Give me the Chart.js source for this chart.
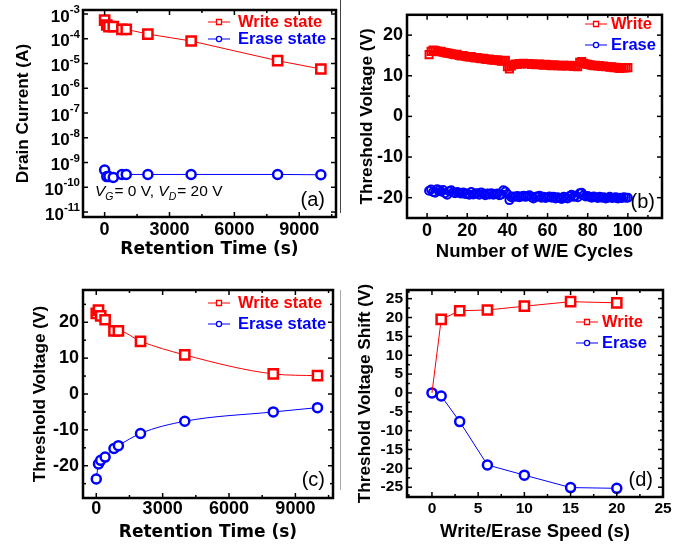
<!DOCTYPE html>
<html lang="en">
<head>
<meta charset="UTF-8">
<title>Memory characteristics - four panels</title>
<script src="https://cdn.jsdelivr.net/npm/chart.js"></script>
<style>
  body { margin: 0; background: #fff; }
  #wrap { position: relative; width: 693px; height: 546px; }
  #wrap canvas { position: absolute; }
  .seam { position: absolute; left: 340px; width: 1px; }
</style>
</head>
<body>
<div id="wrap">
  <canvas id="chartA" width="346" height="273" style="left:0;top:0"></canvas>
  <canvas id="chartB" width="347" height="273" style="left:346px;top:0"></canvas>
  <canvas id="chartC" width="346" height="273" style="left:0;top:273px"></canvas>
  <canvas id="chartD" width="347" height="273" style="left:346px;top:273px"></canvas>
  <div class="seam" style="top:0;height:213px;background:#444"></div>
  <div class="seam" style="top:290px;height:200px;background:#aaa"></div>
</div>

<script>
// ---- data ----
const retentionTime = [0, 100, 200, 400, 800, 1000, 2000, 4000, 8000, 10000];
const currentWrite = [5.7e-4, 3.6e-4, 3.1e-4, 3.1e-4, 2.4e-4, 2.4e-4, 1.55e-4, 8.1e-5, 1.3e-5, 6e-6];
const currentErase = [5e-10, 2.7e-10, 2.7e-10, 2.5e-10, 3.3e-10, 3.3e-10, 3.3e-10, 3.3e-10, 3.3e-10, 3.2e-10];

const vthRetWrite = [22.5, 23.4, 21.8, 20.7, 17.6, 17.6, 14.7, 10.9, 5.6, 5.1];
const vthRetErase = [-23.7, -19.5, -18.5, -17.6, -15.2, -14.4, -11.0, -7.6, -5.0, -3.8];

const cycles = Array.from({length: 100}, (_, i) => i + 1);
const vthCycWrite = [
  15.2, 16.0, 16.3, 16.2, 16.1, 15.9, 16.0, 15.8, 15.7, 15.6,
  15.5, 15.4, 15.3, 15.2, 15.3, 15.0, 14.9, 15.0, 14.8, 14.7,
  14.6, 14.7, 14.5, 14.4, 14.5, 14.3, 14.2, 14.3, 14.1, 14.0,
  14.1, 13.9, 13.9, 13.8, 13.9, 13.7, 13.6, 13.7, 13.8, 12.2,
  11.7, 12.4, 12.7, 12.9, 12.8, 13.0, 12.9, 13.1, 13.0, 12.9,
  13.0, 12.8, 12.9, 12.7, 12.8, 12.9, 12.7, 12.6, 12.8, 12.7,
  12.6, 12.5, 12.7, 12.6, 12.5, 12.6, 12.4, 12.6, 12.5, 12.4,
  12.6, 12.5, 12.3, 12.4, 12.2, 13.3, 13.5, 13.1, 12.9, 12.8,
  12.7, 12.6, 12.5, 12.6, 12.4, 12.5, 12.3, 12.4, 12.2, 12.3,
  12.1, 12.2, 12.0, 12.1, 11.9, 11.8, 12.0, 11.9, 12.0, 12.0
];
const vthCycErase = [
  -18.3, -18.0, -18.6, -18.8, -17.9, -18.2, -18.5, -18.1, -18.9, -19.3,
  -18.4, -18.2, -18.7, -18.9, -18.6, -18.8, -19.0, -18.7, -19.1, -19.0,
  -19.3, -18.6, -19.2, -19.0, -18.9, -19.3, -18.7, -19.1, -19.4, -19.0,
  -19.2, -18.9, -19.3, -19.1, -19.0, -19.4, -19.2, -18.2, -18.5, -19.1,
  -20.6, -19.9, -19.7, -19.8, -19.6, -19.9, -19.7, -19.5, -19.8, -19.6,
  -19.4, -19.9, -20.2, -19.8, -19.7, -19.5, -20.0, -19.8, -20.1, -19.9,
  -19.7, -20.0, -19.8, -20.2, -19.9, -20.1, -20.3, -19.8, -20.0, -20.2,
  -19.6, -19.3, -19.8, -19.5, -19.9, -18.9, -18.8, -19.4, -19.7, -19.6,
  -19.8, -20.0, -19.7, -19.9, -20.1, -19.8, -20.0, -19.9, -20.2, -20.0,
  -19.8, -20.1, -20.0, -19.9, -20.2, -20.0, -20.1, -19.9, -20.0, -20.0
];

const speed = [0, 1, 3, 6, 10, 15, 20];
const shiftWrite = [0, 19.5, 21.8, 22.0, 23.0, 24.2, 23.9];
const shiftErase = [0, -0.8, -7.6, -19.1, -21.8, -25.1, -25.3];

// ---- tick labels ----
const ticksRetention = [0, 3000, 6000, 9000];
const ticksCurrent = [1e-11, 1e-10, 1e-9, 1e-8, 1e-7, 1e-6, 1e-5, 1e-4, 1e-3];
const ticksCycles = [0, 20, 40, 60, 80, 100];
const ticksVth = [-20, -10, 0, 10, 20];
const ticksSpeed = [0, 5, 10, 15, 20, 25];
const ticksShift = [-25, -20, -15, -10, -5, 0, 5, 10, 15, 20, 25];

const RED = '#ff0000';
const BLUE = '#0000ff';
const FONT = '"Liberation Sans", Arial, sans-serif';
const WIDE = '"DejaVu Sans", Verdana, sans-serif';

Chart.defaults.font.family = FONT;
Chart.defaults.color = '#000';
Chart.defaults.animation = false;

function line(ctx, x1, y1, x2, y2) {
  ctx.beginPath();
  ctx.moveTo(x1, y1);
  ctx.lineTo(x2, y2);
  ctx.stroke();
}

// major ticks come from the scale, minor ones sit between them
function tickMarks(scale, minor) {
  const out = scale.ticks.map(t => ({v: t.value, major: true}));
  if (minor) {
    for (let v = Math.ceil(scale.min / minor) * minor; v <= scale.max; v += minor) {
      if (!out.some(m => Math.abs(m.v - v) < minor / 100)) out.push({v: v, major: false});
    }
  }
  return out;
}

function drawBiasNote(ctx, x, y) {
  const parts = [
    ['italic 15.5px', 'V', 0], ['italic 10.5px', 'G', 5], ['15.5px', '= 0 V, ', 0],
    ['italic 15.5px', 'V', 0], ['italic 10.5px', 'D', 5], ['15.5px', '= 20 V', 0]
  ];
  ctx.fillStyle = '#000';
  ctx.textAlign = 'left';
  ctx.textBaseline = 'middle';
  parts.forEach(p => {
    ctx.font = p[0] + ' ' + FONT;
    ctx.fillText(p[1], x, y + p[2]);
    x += ctx.measureText(p[1]).width + (p[2] ? 1 : 0);
  });
}

// frame with inward ticks, legend, panel letter (Origin look)
const panelPlugin = {
  id: 'panel',
  afterDraw(chart, args, opts) {
    const ctx = chart.ctx;
    const area = chart.chartArea;
    const xs = chart.scales.x, ys = chart.scales.y;
    ctx.save();
    ctx.strokeStyle = '#000';
    ctx.lineWidth = 1.5;
    tickMarks(xs, opts.xMinor).forEach(m => {
      const p = xs.getPixelForValue(m.v);
      const len = m.major ? 5 : 3;
      line(ctx, p, area.bottom, p, area.bottom - len);
      line(ctx, p, area.top, p, area.top + len);
    });
    tickMarks(ys, opts.yMinor).forEach(m => {
      const p = ys.getPixelForValue(m.v);
      const len = m.major ? 5 : 3;
      line(ctx, area.left, p, area.left + len, p);
      line(ctx, area.right, p, area.right - len, p);
    });
    ctx.lineWidth = 2.5;
    ctx.strokeRect(area.left, area.top, area.right - area.left, area.bottom - area.top);

    if (opts.logLabels) {
      ctx.fillStyle = '#000';
      ctx.textAlign = 'right';
      ctx.textBaseline = 'middle';
      ys.ticks.forEach(t => {
        const p = ys.getPixelForValue(t.value);
        const sup = String(Math.round(Math.log10(t.value)));
        ctx.font = 'bold 11.5px ' + FONT;
        const w = ctx.measureText(sup).width;
        ctx.fillText(sup, opts.logLabels, p - 4);
        ctx.font = 'bold 17px ' + FONT;
        ctx.fillText('10', opts.logLabels - w, p + 3);
      });
    }

    const lg = opts.legend;
    chart.data.datasets.forEach((ds, i) => {
      const y = lg.y + i * lg.dy;
      ctx.strokeStyle = ds.borderColor;
      ctx.lineWidth = 1;
      line(ctx, lg.x, y, lg.x + 22, y);
      const cx = lg.x + 11;
      ctx.fillStyle = '#fff';
      ctx.lineWidth = 1.3;
      ctx.beginPath();
      if (ds.pointStyle === 'rect') ctx.rect(cx - 2.5, y - 2.5, 5, 5);
      else ctx.arc(cx, y, 2.6, 0, Math.PI * 2);
      ctx.fill();
      ctx.stroke();
      ctx.fillStyle = ds.borderColor;
      ctx.font = 'bold 16.5px ' + FONT;
      ctx.textAlign = 'left';
      ctx.textBaseline = 'middle';
      ctx.fillText(ds.label, lg.textX, y);
    });

    ctx.fillStyle = '#000';
    ctx.font = '20px ' + FONT;
    ctx.textAlign = 'right';
    ctx.textBaseline = 'middle';
    ctx.fillText(opts.letter.text, opts.letter.x, opts.letter.y);

    if (opts.note) drawBiasNote(ctx, opts.note.x, opts.note.y);
    ctx.restore();
  }
};

function series(label, xv, yv, color, style, small, smooth, hideFirst) {
  const r = style === 'rect' ? (small ? 5 : 6.5) : (small ? 4 : 4.5);
  return {
    label: label,
    data: xv.map((x, i) => ({x: x, y: yv[i]})),
    borderColor: color,
    backgroundColor: color,
    borderWidth: 1,
    pointStyle: style,
    pointRadius: hideFirst ? (c => c.dataIndex === 0 ? 0 : r) : r,
    pointBorderWidth: small ? 2 : 2.5,
    pointBorderColor: color,
    pointBackgroundColor: small ? 'rgba(255,255,255,0)' : '#fff',
    cubicInterpolationMode: smooth ? 'monotone' : 'default',
    tension: 0
  };
}

function axis(cfg) {
  return {
    type: cfg.type || 'linear',
    min: cfg.min,
    max: cfg.max,
    afterBuildTicks: s => { s.ticks = cfg.ticks.map(v => ({value: v})); },
    afterFit: s => { if (cfg.width) s.width = cfg.width; if (cfg.height) s.height = cfg.height; },
    grid: {display: false, drawTicks: false},
    border: {display: false},
    ticks: {
      display: cfg.showTicks !== false,
      font: {size: cfg.tickSize || 18, weight: 'bold'},
      padding: cfg.tickPad,
      maxRotation: 0,
      autoSkip: false,
      callback: v => String(v)
    },
    title: {
      display: true,
      text: cfg.title,
      font: {family: cfg.titleFamily || FONT, size: cfg.titleSize || 18.5, weight: 'bold'},
      padding: cfg.titlePad
    }
  };
}

function makePanel(id, datasets, xAxis, yAxis, padding, panelOpts) {
  new Chart(document.getElementById(id), {
    type: 'line',
    data: {datasets: datasets},
    options: {
      responsive: false,
      layout: {padding: padding},
      scales: {x: axis(xAxis), y: axis(yAxis)},
      plugins: {legend: {display: false}, tooltip: {enabled: false}, panel: panelOpts}
    },
    plugins: [panelPlugin]
  });
}

// (a) drain current retention
makePanel('chartA',
  [series('Write state', retentionTime, currentWrite, RED, 'rect'),
   series('Erase state', retentionTime, currentErase, BLUE, 'circle')],
  {min: -1000, max: 10700, ticks: ticksRetention, height: 56, tickPad: 2,
   title: 'Retention Time (s)', titleFamily: WIDE, titleSize: 17, titlePad: {top: 0, bottom: 13}},
  {type: 'logarithmic', min: 6.3e-12, max: 1.45e-3, ticks: ticksCurrent, width: 83, showTicks: false,
   title: 'Drain Current (A)', titleSize: 17.2, titlePad: {top: 13, bottom: 0}},
  {left: 0, top: 10, right: 10, bottom: 0},
  {xMinor: 1500, logLabels: 80,
   legend: {x: 208, y: 22, dy: 17, textX: 238},
   letter: {text: '(a)', x: 325, y: 200},
   note: {x: 95, y: 192}});

// (b) endurance
makePanel('chartB',
  [series('Write', cycles, vthCycWrite, RED, 'rect', true),
   series('Erase', cycles, vthCycErase, BLUE, 'circle', true)],
  {min: -10, max: 117, ticks: ticksCycles, height: 55, tickPad: 2,
   title: 'Number of W/E Cycles', titlePad: {top: 0, bottom: 10}},
  {min: -25, max: 25, ticks: ticksVth, width: 61, tickPad: 4,
   title: 'Threshold Voltage (V)', titleSize: 17.2, titlePad: {top: 11, bottom: 0}},
  {left: 0, top: 10, right: 31, bottom: 0},
  {xMinor: 10, yMinor: 5,
   legend: {x: 239, y: 24, dy: 21, textX: 265},
   letter: {text: '(b)', x: 309, y: 202}});

// (c) threshold voltage retention
makePanel('chartC',
  [series('Write state', retentionTime, vthRetWrite, RED, 'rect', false, true),
   series('Erase state', retentionTime, vthRetErase, BLUE, 'circle', false, true)],
  {min: -600, max: 10700, ticks: ticksRetention, height: 48, tickPad: 0,
   title: 'Retention Time (s)', titleFamily: WIDE, titleSize: 17, titlePad: {top: 0, bottom: 3}},
  {min: -29, max: 29, ticks: ticksVth, width: 83, tickPad: 4,
   title: 'Threshold Voltage (V)', titleSize: 17.2, titlePad: {top: 30, bottom: 0}},
  {left: 0, top: 17, right: 13, bottom: 0},
  {xMinor: 1500, yMinor: 5,
   legend: {x: 208, y: 30, dy: 21, textX: 238},
   letter: {text: '(c)', x: 325, y: 207}});

// (d) write/erase speed
makePanel('chartD',
  [series('Write', speed, shiftWrite, RED, 'rect', false, false, true),
   series('Erase', speed, shiftErase, BLUE, 'circle')],
  {min: -2.7, max: 25, ticks: ticksSpeed, height: 49, tickPad: 2, tickSize: 15.5,
   title: 'Write/Erase Speed (s)', titlePad: {top: 0, bottom: 3}},
  {min: -27.6, max: 27.3, ticks: ticksShift, width: 61, tickPad: 4, tickSize: 15.5,
   title: 'Threshold Voltage Shift (V)', titleSize: 17.2, titlePad: {top: 9, bottom: 0}},
  {left: 0, top: 17, right: 30, bottom: 0},
  {xMinor: 2.5, yMinor: 2.5,
   legend: {x: 230, y: 49, dy: 21, textX: 256},
   letter: {text: '(d)', x: 307, y: 207}});
</script>
</body>
</html>
